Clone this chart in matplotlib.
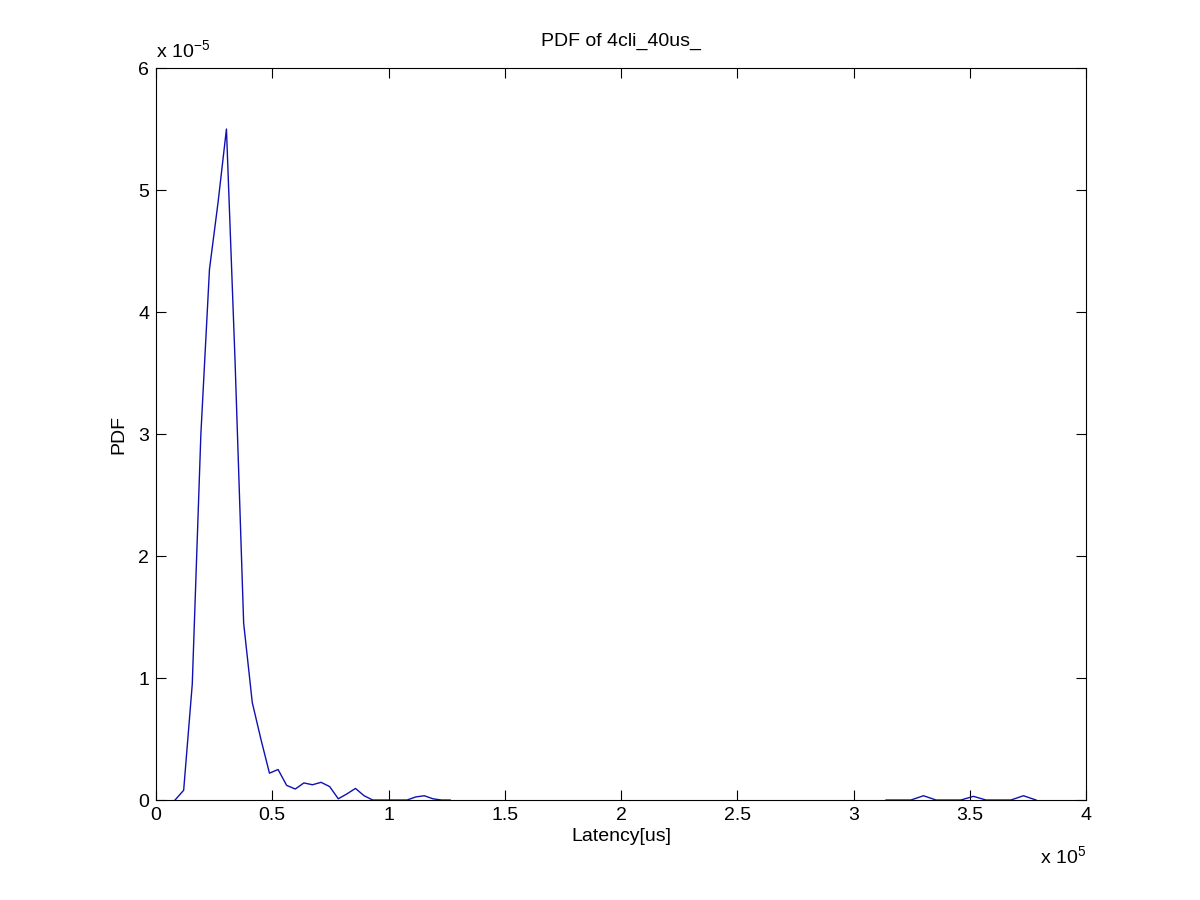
import numpy as np
import matplotlib.pyplot as plt
from matplotlib.ticker import FuncFormatter

plt.rcParams['font.family'] = ['Liberation Sans', 'DejaVu Sans']
plt.rcParams['axes.unicode_minus'] = False

# latency bins (us) and pdf values, first cluster
lat_a = [8200, 11900, 15600, 19300, 23000, 26700, 30300, 34000, 37700, 41400,
         45100, 48800, 52500, 56200, 59900, 63600, 67300, 71000, 74700, 78400,
         82100, 85800, 89500, 93200, 96900, 100600, 104300, 108000, 111700,
         115400, 119100, 122800, 126500]
pdf_a = [0.0, 0.08, 0.95, 3.0, 4.35, 4.9, 5.5, 3.6, 1.45, 0.8,
         0.5, 0.22, 0.25, 0.12, 0.09, 0.14, 0.125, 0.145, 0.11, 0.01,
         0.05, 0.095, 0.035, 0.0, 0.0, 0.0, 0.0, 0.0, 0.025,
         0.035, 0.01, 0.0, 0.0]

# second cluster (far tail)
lat_b = [314000, 319400, 324700, 330100, 335500, 340900, 346200, 351600,
         357000, 362400, 367700, 373100, 378500]
pdf_b = [0.0, 0.0, 0.0, 0.035, 0.0, 0.0, 0.0, 0.03, 0.0, 0.0, 0.0, 0.035, 0.0]

# one line with a gap between the clusters
lat = np.array(lat_a + [np.nan] + lat_b)
pdf = np.array(pdf_a + [np.nan] + pdf_b) * 1e-5

fig = plt.figure(figsize=(12, 9), dpi=100)
ax = fig.add_axes([0.13, 0.1111, 0.775, 0.8133])
ax.plot(lat, pdf, color='#1010b0', linewidth=1.0)

ax.set_xlim(0, 4e5)
ax.set_ylim(0, 6e-5)
ax.set_xticks(np.arange(0, 4.01e5, 0.5e5))
ax.set_yticks(np.arange(0, 6.01e-5, 1e-5))
ax.xaxis.set_major_formatter(FuncFormatter(lambda v, p: f'{v / 1e5:g}'))
ax.yaxis.set_major_formatter(FuncFormatter(lambda v, p: f'{v / 1e-5:g}'))
ax.tick_params(direction='in', length=7, width=0.8, top=True, right=True,
               labelsize=14, pad=5)
for s in ax.spines.values():
    s.set_linewidth(0.8)

ax.set_title('PDF of 4cli_40us_', fontsize=14, pad=16)
ax.set_xlabel('Latency[us]', fontsize=14, labelpad=3)
ax.set_ylabel('PDF', fontsize=14, labelpad=8)

ax.text(0.0, 1.008, r'x 10$^{\mathregular{-5}}$', transform=ax.transAxes,
        fontsize=14, ha='left', va='bottom')
ax.text(1.0, -0.062, r'x 10$^{\mathregular{5}}$', transform=ax.transAxes,
        fontsize=14, ha='right', va='top')

fig.savefig('out.png', dpi=100)
